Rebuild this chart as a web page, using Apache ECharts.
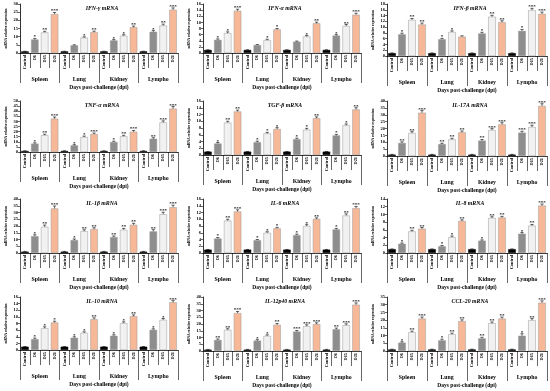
<!DOCTYPE html>
<html><head><meta charset="utf-8">
<script src="https://cdn.jsdelivr.net/npm/echarts@6/dist/echarts.min.js"></script>
<style>html,body{margin:0;padding:0;background:#fff}#c{width:550px;height:391px}</style>
</head><body><div id="c"></div>
<script>
// ---------- data ----------
const tissues = ['Spleen', 'Lung', 'Kidney', 'Lympho'];
const days = ['Control', 'D6', 'D15', 'D21'];
const titles = ['IFN-γ mRNA', 'IFN-α mRNA', 'IFN-β mRNA', 'TNF-α mRNA', 'TGF-β mRNA', 'IL-17A mRNA',
                'IL-1β mRNA', 'IL-6 mRNA', 'IL-8 mRNA', 'IL-10 mRNA', 'IL-12p40 mRNA', 'CCL-20 mRNA'];
const yMax  = [30, 16, 18, 50, 16, 40, 40, 16, 14, 16, 40, 35];
const yStep = [5, 2, 2, 5, 2, 5, 5, 2, 2, 2, 5, 5];

// values: Spleen(C,D6,D15,D21), Lung(...), Kidney(...), Lympho(...)
const ifng   = [1, 8.3, 12.6, 23.8,  1, 4.7, 9.4, 12.8,  1, 7.7, 10.6, 15.8,  1, 13.0, 16.8, 26.5];
const ifna   = [1, 4.3, 6.5, 13.8,   1, 2.6, 4.2, 7.7,   1, 3.7, 5.4, 9.7,    1, 5.7, 8.8, 12.5];
const ifnb   = [1, 7.5, 12.5, 10.9,  1, 5.8, 8.3, 6.7,   1, 7.8, 13.6, 11.7,  1, 8.7, 15.9, 14.6];
const tnfa   = [1, 8.2, 16.5, 32.7,  1, 6.5, 14.7, 17.6, 1, 9.8, 15.4, 19.9,  1, 13.0, 29.0, 42.5];
const tgfb   = [1, 3.4, 9.6, 12.9,   1, 3.8, 6.4, 7.7,   1, 4.7, 7.5, 10.9,   1, 5.8, 8.8, 13.5];
const il17a  = [1, 9.5, 16.7, 31.5,  1, 8.7, 12.1, 17.2, 1, 11.2, 18.9, 23.0, 1, 17.0, 21.1, 36.4];
const il1b   = [1, 12.5, 19.4, 33.0, 1, 9.6, 16.2, 17.7, 1, 11.8, 17.2, 20.9, 1, 16.0, 28.7, 33.9];
const il6    = [1, 4.3, 9.6, 12.3,   1, 3.8, 6.0, 7.3,   1, 5.3, 8.0, 10.1,   1, 7.0, 11.1, 13.3];
const il8    = [1, 2.4, 5.6, 6.3,    1, 1.75, 4.1, 8.3,  1, 3.2, 9.1, 9.2,    1, 5.0, 7.1, 12.3];
const il10   = [1, 3.3, 6.6, 8.3,    1, 3.7, 5.2, 9.3,   1, 4.3, 8.1, 10.2,   1, 6.1, 9.1, 14.4];
const il12   = [1, 8.2, 15.7, 28.1,  1, 7.7, 11.2, 19.4, 1, 14.4, 18.4, 19.9, 1, 16.1, 19.1, 34.3];
const ccl20  = [1, 5.4, 12.2, 21.0,  1, 6.9, 10.9, 19.3, 1, 8.2, 18.0, 21.0,  1, 9.9, 20.0, 31.3];

// error bars (SEM estimates)
const e_ifng  = [0.1, 0.6, 0.7, 1.0,  0.1, 0.3, 0.5, 0.6,  0.1, 0.5, 0.6, 0.7,  0.1, 0.7, 0.9, 1.1];
const e_ifna  = [0.05, 0.3, 0.4, 0.5, 0.05, 0.15, 0.3, 0.3, 0.05, 0.2, 0.3, 0.4, 0.05, 0.3, 0.5, 0.5];
const e_ifnb  = [0.05, 0.4, 0.5, 0.5, 0.05, 0.3, 0.4, 0.3, 0.05, 0.4, 0.5, 0.5, 0.05, 0.5, 0.6, 0.6];
const e_tnfa  = [0.2, 0.8, 1.0, 1.6,  0.2, 0.7, 0.9, 1.0,  0.2, 0.8, 1.0, 1.2,  0.2, 1.0, 1.5, 2.0];
const e_tgfb  = [0.05, 0.3, 0.4, 0.4, 0.05, 0.3, 0.3, 0.4, 0.05, 0.3, 0.4, 0.4, 0.05, 0.3, 0.4, 0.5];
const e_il17a = [0.2, 0.8, 1.0, 1.5,  0.2, 0.6, 0.8, 1.0,  0.2, 0.8, 1.0, 1.2,  0.2, 1.0, 1.3, 1.6];
const e_il1b  = [0.2, 1.0, 1.3, 1.8,  0.2, 0.8, 1.0, 1.0,  0.2, 0.8, 1.0, 1.1,  0.2, 1.3, 1.5, 1.5];
const e_il6   = [0.05, 0.3, 0.4, 0.5, 0.05, 0.2, 0.3, 0.3, 0.05, 0.3, 0.4, 0.3, 0.05, 0.3, 0.5, 0.5];
const e_il8   = [0.05, 0.2, 0.3, 0.3, 0.05, 0.2, 0.3, 0.3, 0.05, 0.2, 0.3, 0.3, 0.05, 0.3, 0.3, 0.4];
const e_il10  = [0.05, 0.3, 0.4, 0.4, 0.05, 0.3, 0.3, 0.4, 0.05, 0.3, 0.4, 0.4, 0.05, 0.3, 0.4, 0.5];
const e_il12  = [0.2, 0.7, 0.8, 1.2,  0.2, 0.7, 0.8, 1.0,  0.2, 0.8, 1.0, 1.0,  0.2, 0.9, 1.0, 1.3];
const e_ccl20 = [0.2, 0.6, 0.7, 1.0,  0.2, 0.8, 0.7, 0.9,  0.2, 0.7, 0.8, 1.0,  0.2, 1.3, 1.0, 1.2];

// significance marks
const s_ifng  = ['', '*', '**', '***',  '', '', '*', '**',    '', '*', '*', '**',    '', '*', '**', '***'];
const s_ifna  = ['', '*', '*', '***',   '', '', '*', '*',     '', '', '*', '**',     '', '*', '**', '***'];
const s_ifnb  = ['', '*', '**', '**',   '', '*', '*', '',     '', '*', '**', '**',   '', '*', '***', '***'];
const s_tnfa  = ['', '*', '**', '***',  '', '*', '*', '***',  '', '*', '**', '***',  '', '**', '***', '***'];
const s_tgfb  = ['', '*', '**', '**',   '', '*', '*', '*',    '', '*', '*', '**',    '', '*', '*', '**'];
const s_il17a = ['', '**', '**', '***', '', '**', '**', '**', '', '**', '***', '***', '', '***', '***', '***'];
const s_il1b  = ['', '*', '**', '***',  '', '*', '**', '**',  '', '**', '**', '**',  '', '**', '***', '***'];
const s_il6   = ['', '*', '**', '***',  '', '*', '*', '*',    '', '*', '*', '**',    '', '*', '**', '***'];
const s_il8   = ['', '*', '**', '**',   '', '*', '*', '**',   '', '*', '**', '**',   '', '*', '**', '***'];
const s_il10  = ['', '*', '*', '*',     '', '*', '*', '**',   '', '*', '*', '**',    '', '*', '*', '***'];
const s_il12  = ['', '**', '**', '***', '', '*', '*', '**',   '', '***', '***', '***', '', '**', '***', '***'];
const s_ccl20 = ['', '*', '**', '***',  '', '*', '**', '**',  '', '**', '**', '**',  '', '*', '**', '***'];

const values = [ifng, ifna, ifnb, tnfa, tgfb, il17a, il1b, il6, il8, il10, il12, ccl20];
const errors = [e_ifng, e_ifna, e_ifnb, e_tnfa, e_tgfb, e_il17a, e_il1b, e_il6, e_il8, e_il10, e_il12, e_ccl20];
const sigs   = [s_ifng, s_ifna, s_ifnb, s_tnfa, s_tgfb, s_il17a, s_il1b, s_il6, s_il8, s_il10, s_il12, s_ccl20];

// ---------- layout / style ----------
const colX = [0, 183, 366];
const rowY = [0, 97, 195, 293];
const zeroY = [53, 53, 56, 55, 58, 59, 58, 58, 58, 57, 58, 58];
const barColors = ['#000000', '#8e8e8e', '#f1f1f1', '#f7b898'];
const FONT = 'Liberation Serif';

const catLabels = tissues.flatMap(() => days);
const grid = [], xAxis = [], yAxis = [], series = [], title = [];

for (let p = 0; p < 12; p++) {
  const c = p % 3, r = Math.floor(p / 3);
  const ox = colX[c], oy = rowY[r];
  const left = ox + (c === 2 ? 21 : 20);
  const width = c === 2 ? 160 : 158;
  const top = oy + 4;
  const height = zeroY[p] - 4;
  grid.push({ left, top, width, height, containLabel: false });
  title.push({
    text: titles[p], left: left + width / 2 - 2, top: oy + 1, textAlign: 'center',
    textStyle: { fontFamily: FONT, fontStyle: 'italic', fontWeight: 'bold', fontSize: 5.8, color: '#000' }
  });
  xAxis.push({
    type: 'category', gridIndex: p, data: catLabels, position: 'bottom',
    axisLine: { lineStyle: { color: '#000', width: 0.8 } },
    axisTick: { show: true, interval: 0, length: 15, lineStyle: { color: '#000', width: 0.6 } },
    axisLabel: { interval: 0, rotate: 90, fontSize: 4.3, fontFamily: FONT, fontWeight: 'bold', color: '#000', margin: 2 }
  });
  xAxis.push({
    type: 'category', gridIndex: p, data: tissues, position: 'bottom', offset: 15,
    axisLine: { show: false },
    axisTick: { show: true, interval: 0, length: 15, lineStyle: { color: '#000', width: 0.6 } },
    axisLabel: { interval: 0, fontSize: 5.8, fontFamily: FONT, fontWeight: 'bold', color: '#000', margin: 9 },
    name: 'Days post-challenge (dpi)', nameLocation: 'middle', nameGap: 17,
    nameTextStyle: { fontSize: 5.5, fontFamily: FONT, fontWeight: 'bold', color: '#000' }
  });
  yAxis.push({
    type: 'value', gridIndex: p, min: 0, max: yMax[p], interval: yStep[p],
    axisLine: { show: true, lineStyle: { color: '#000', width: 0.8 } },
    axisTick: { show: true, length: 2, lineStyle: { color: '#000', width: 0.6 } },
    splitLine: { show: false },
    axisLabel: { fontSize: 4.5, fontFamily: FONT, fontWeight: 'bold', color: '#000', margin: 2 },
    name: 'mRNA relative expression', nameLocation: 'middle', nameRotate: 90, nameGap: 12,
    nameTextStyle: { fontSize: 3.6, fontFamily: FONT, fontWeight: 'bold', color: '#000' }
  });
  series.push({
    type: 'bar', xAxisIndex: 2 * p, yAxisIndex: p, barWidth: '76%', silent: true,
    data: values[p].map((v, i) => ({
      value: v,
      itemStyle: { color: barColors[i % 4], borderColor: i % 4 === 0 ? '#000' : '#9a9a9a', borderWidth: 0.5 }
    }))
  });
  const sg = sigs[p];
  series.push({
    type: 'custom', xAxisIndex: 2 * p, yAxisIndex: p, silent: true, z: 5,
    data: values[p].map((v, i) => [i, v, errors[p][i]]),
    renderItem: function (params, api) {
      const i = api.value(0), v = api.value(1), e = api.value(2);
      const b = api.coord([i, v]);
      const t = api.coord([i, v + e]);
      const hw = 1.6;
      const children = [
        { type: 'line', shape: { x1: b[0], y1: b[1], x2: t[0], y2: t[1] }, style: { stroke: '#000', lineWidth: 0.6 } },
        { type: 'line', shape: { x1: t[0] - hw, y1: t[1], x2: t[0] + hw, y2: t[1] }, style: { stroke: '#000', lineWidth: 0.6 } }
      ];
      const s = sg[params.dataIndex];
      if (s) {
        children.push({ type: 'text', x: t[0], y: t[1] + 1.2,
          style: { text: s, fontSize: 5, fontFamily: FONT, fontWeight: 'bold', fill: '#000', align: 'center', verticalAlign: 'bottom' } });
      }
      return { type: 'group', children };
    }
  });
}

const chart = echarts.init(document.getElementById('c'), null, { renderer: 'canvas' });
chart.setOption({ animation: false, backgroundColor: '#fff', title, grid, xAxis, yAxis, series });
</script>
</body></html>
